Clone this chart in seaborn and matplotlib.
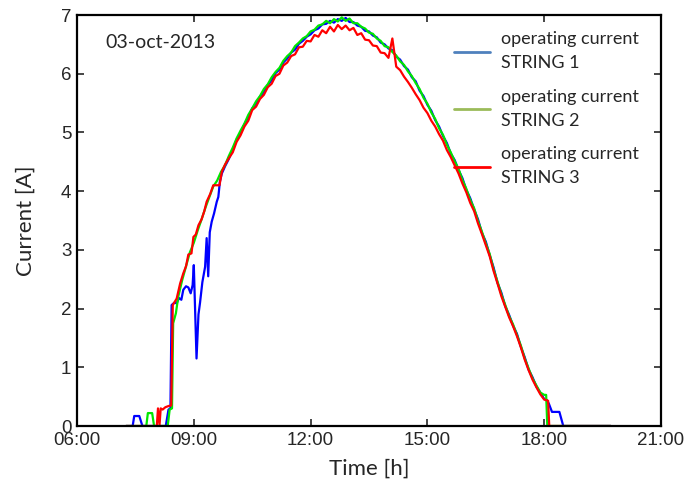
import numpy as np
import pandas as pd
import seaborn as sns
import matplotlib.pyplot as plt
from matplotlib.lines import Line2D

# Datos (horas decimales, corriente en A)
day_hours = [9.8, 9.9, 10.0, 10.1, 10.2, 10.3, 10.4, 10.5, 10.6, 10.7, 10.8, 10.9,
             11.0, 11.1, 11.2, 11.3, 11.4, 11.5, 11.6, 11.7, 11.8, 11.9,
             12.0, 12.1, 12.2, 12.3, 12.4, 12.5, 12.6, 12.7, 12.8, 12.9,
             13.0, 13.1, 13.2, 13.3, 13.4, 13.5, 13.6, 13.7, 13.8, 13.9,
             14.0, 14.1, 14.2, 14.3, 14.4, 14.5, 14.6, 14.7, 14.8, 14.9,
             15.0, 15.1, 15.2, 15.3, 15.4, 15.5, 15.6, 15.7, 15.8, 15.9,
             16.0, 16.1, 16.2, 16.3, 16.4, 16.5, 16.6, 16.7, 16.8, 16.9,
             17.0, 17.1, 17.2, 17.3, 17.4, 17.5, 17.6, 17.7, 17.8, 17.9]

# STRING 1
s1_dawn_hours = [7.26, 7.43, 7.47, 7.60, 7.68, 8.28, 8.35, 8.40, 8.43, 8.50, 8.56, 8.62,
                 8.68, 8.73, 8.80, 8.86, 8.92, 8.97, 9.00, 9.07, 9.12, 9.16, 9.22, 9.29,
                 9.33, 9.37, 9.41, 9.46, 9.52, 9.59, 9.63, 9.67, 9.72]
s1_dawn = [0, 0, 0.17, 0.17, 0, 0, 0.28, 0.30, 2.06, 2.10, 2.09, 2.18,
           2.15, 2.32, 2.38, 2.36, 2.26, 2.40, 2.74, 1.15, 1.90, 2.10, 2.45, 2.71,
           3.20, 2.55, 3.30, 3.48, 3.62, 3.82, 3.90, 4.16, 4.30]
s1_day = [4.42, 4.55, 4.70, 4.88, 4.99, 5.14, 5.26, 5.41, 5.49, 5.61, 5.69, 5.81,
          5.89, 6.01, 6.07, 6.19, 6.26, 6.36, 6.41, 6.51, 6.56, 6.63,
          6.67, 6.74, 6.77, 6.84, 6.85, 6.90, 6.87, 6.93, 6.90, 6.95,
          6.88, 6.88, 6.82, 6.80, 6.73, 6.72, 6.65, 6.62, 6.53, 6.50,
          6.43, 6.40, 6.29, 6.24, 6.13, 6.07, 5.94, 5.87, 5.71, 5.62,
          5.47, 5.37, 5.21, 5.10, 4.94, 4.82, 4.64, 4.53, 4.36, 4.22,
          4.02, 3.88, 3.69, 3.52, 3.29, 3.14, 2.91, 2.70, 2.44, 2.27,
          2.04, 1.89, 1.71, 1.57, 1.35, 1.17, 0.96, 0.83, 0.67, 0.57]
s1_dusk_hours = [18.0, 18.07, 18.12, 18.2, 18.39, 18.49, 19.71]
s1_dusk = [0.46, 0.44, 0.38, 0.24, 0.24, 0, 0]

# STRING 2
s2_dawn_hours = [7.26, 7.78, 7.82, 7.93, 7.98, 8.33, 8.38, 8.44, 8.47, 8.54, 8.6, 8.7,
                 8.8, 8.9, 9.0, 9.1, 9.2, 9.3, 9.4, 9.5, 9.6, 9.7]
s2_dawn = [0, 0, 0.22, 0.22, 0, 0, 0.28, 0.30, 1.75, 1.92, 2.20, 2.48,
           2.72, 2.96, 3.12, 3.33, 3.52, 3.72, 3.90, 4.08, 4.18, 4.33]
s2_day = [4.44, 4.60, 4.74, 4.90, 5.03, 5.15, 5.30, 5.41, 5.53, 5.62, 5.74, 5.82,
          5.94, 6.03, 6.10, 6.22, 6.30, 6.36, 6.47, 6.53, 6.60, 6.64,
          6.72, 6.75, 6.82, 6.84, 6.90, 6.86, 6.93, 6.89, 6.96, 6.90,
          6.94, 6.86, 6.86, 6.80, 6.77, 6.70, 6.68, 6.60, 6.56, 6.47,
          6.45, 6.37, 6.31, 6.21, 6.15, 6.04, 5.96, 5.84, 5.74, 5.59,
          5.49, 5.34, 5.23, 5.07, 4.96, 4.79, 4.66, 4.51, 4.38, 4.19,
          4.04, 3.85, 3.71, 3.49, 3.31, 3.11, 2.93, 2.67, 2.46, 2.24,
          2.06, 1.87, 1.73, 1.55, 1.37, 1.15, 0.98, 0.81, 0.69, 0.57]
s2_dusk_hours = [18.0, 18.05, 18.08, 19.71]
s2_dusk = [0.53, 0.53, 0, 0]

# STRING 3
s3_dawn_hours = [7.26, 8.05, 8.08, 8.12, 8.15, 8.20, 8.27, 8.35, 8.42, 8.46, 8.56, 8.65,
                 8.73, 8.80, 8.86, 8.94, 8.99, 9.05, 9.12, 9.20, 9.27, 9.33, 9.42,
                 9.50, 9.58, 9.66, 9.72]
s3_dawn = [0, 0, 0.30, 0.02, 0.30, 0.28, 0.32, 0.34, 0.35, 2.06, 2.17, 2.43,
           2.60, 2.72, 2.92, 2.94, 3.22, 3.26, 3.42, 3.52, 3.66, 3.82, 3.95,
           4.10, 4.10, 4.10, 4.33]
s3_day = [4.45, 4.56, 4.66, 4.84, 4.95, 5.10, 5.20, 5.38, 5.44, 5.57, 5.64, 5.77,
          5.83, 5.96, 6.00, 6.14, 6.19, 6.30, 6.33, 6.45, 6.46, 6.56,
          6.55, 6.66, 6.63, 6.74, 6.69, 6.80, 6.72, 6.83, 6.76, 6.82,
          6.74, 6.78, 6.66, 6.69, 6.58, 6.57, 6.48, 6.47, 6.36, 6.35,
          6.27, 6.60, 6.12, 6.06, 5.95, 5.86, 5.76, 5.65, 5.55, 5.42,
          5.33, 5.20, 5.10, 4.97, 4.86, 4.70, 4.58, 4.44, 4.30, 4.13,
          3.98, 3.80, 3.66, 3.45, 3.27, 3.08, 2.89, 2.64, 2.43, 2.21,
          2.03, 1.85, 1.70, 1.53, 1.34, 1.13, 0.95, 0.79, 0.66, 0.54]
s3_dusk_hours = [18.0, 18.1, 18.13, 19.71]
s3_dusk = [0.45, 0.43, 0, 0]

labels = ["operating current\nSTRING 1", "operating current\nSTRING 2", "operating current\nSTRING 3"]
line_colors = ["#0000ff", "#00e600", "#ff0000"]
legend_colors = ["#4f81bd", "#9bbb59", "#ff0000"]
x_ticks = [6, 9, 12, 15, 18, 21]
x_tick_labels = ["06:00", "09:00", "12:00", "15:00", "18:00", "21:00"]
date_label = "03-oct-2013"

series = [
    (s1_dawn_hours + day_hours + s1_dusk_hours, s1_dawn + s1_day + s1_dusk),
    (s2_dawn_hours + day_hours + s2_dusk_hours, s2_dawn + s2_day + s2_dusk),
    (s3_dawn_hours + day_hours + s3_dusk_hours, s3_dawn + s3_day + s3_dusk),
]

sns.set_style("ticks")
plt.rcParams['font.family'] = ['Lato', 'DejaVu Sans']

fig = plt.figure(figsize=(6.86, 4.86), dpi=100)
ax = fig.add_axes([77 / 686, 60 / 486, 584 / 686, 411 / 486])

for (hours, current), color in zip(series, line_colors):
    df = pd.DataFrame({"hora": hours, "corriente": current})
    sns.lineplot(data=df, x="hora", y="corriente", color=color, linewidth=1.6,
                 estimator=None, sort=False, ax=ax)

ax.set_xlim(6, 21)
ax.set_ylim(0, 7)
ax.set_xticks(x_ticks)
ax.set_xticklabels(x_tick_labels)
ax.set_yticks(range(0, 8))
ax.tick_params(direction='in', length=5, width=1.2, top=True, right=True, pad=4,
               labelsize=13.5, labelfontfamily='Liberation Sans')
for sp in ax.spines.values():
    sp.set_visible(True)
    sp.set_linewidth(1.6)
    sp.set_color('black')

ax.set_xlabel("Time [h]", fontsize=16, labelpad=7)
ax.set_ylabel("Current [A]", fontsize=16, labelpad=18)

ax.text(0.048, 0.932, date_label, transform=ax.transAxes, fontsize=14,
        ha='left', va='center')

handles = [Line2D([0], [0], color=c, linewidth=2) for c in legend_colors]
leg = ax.legend(handles, labels, loc='upper left', bbox_to_anchor=(0.6455, 0.96),
                frameon=False, fontsize=13, handlelength=2.0, handletextpad=0.6,
                labelspacing=0.98, borderpad=0, borderaxespad=0)
for t in leg.get_texts():
    t.set_linespacing(1.6)

fig.savefig("out.png", dpi=100)
